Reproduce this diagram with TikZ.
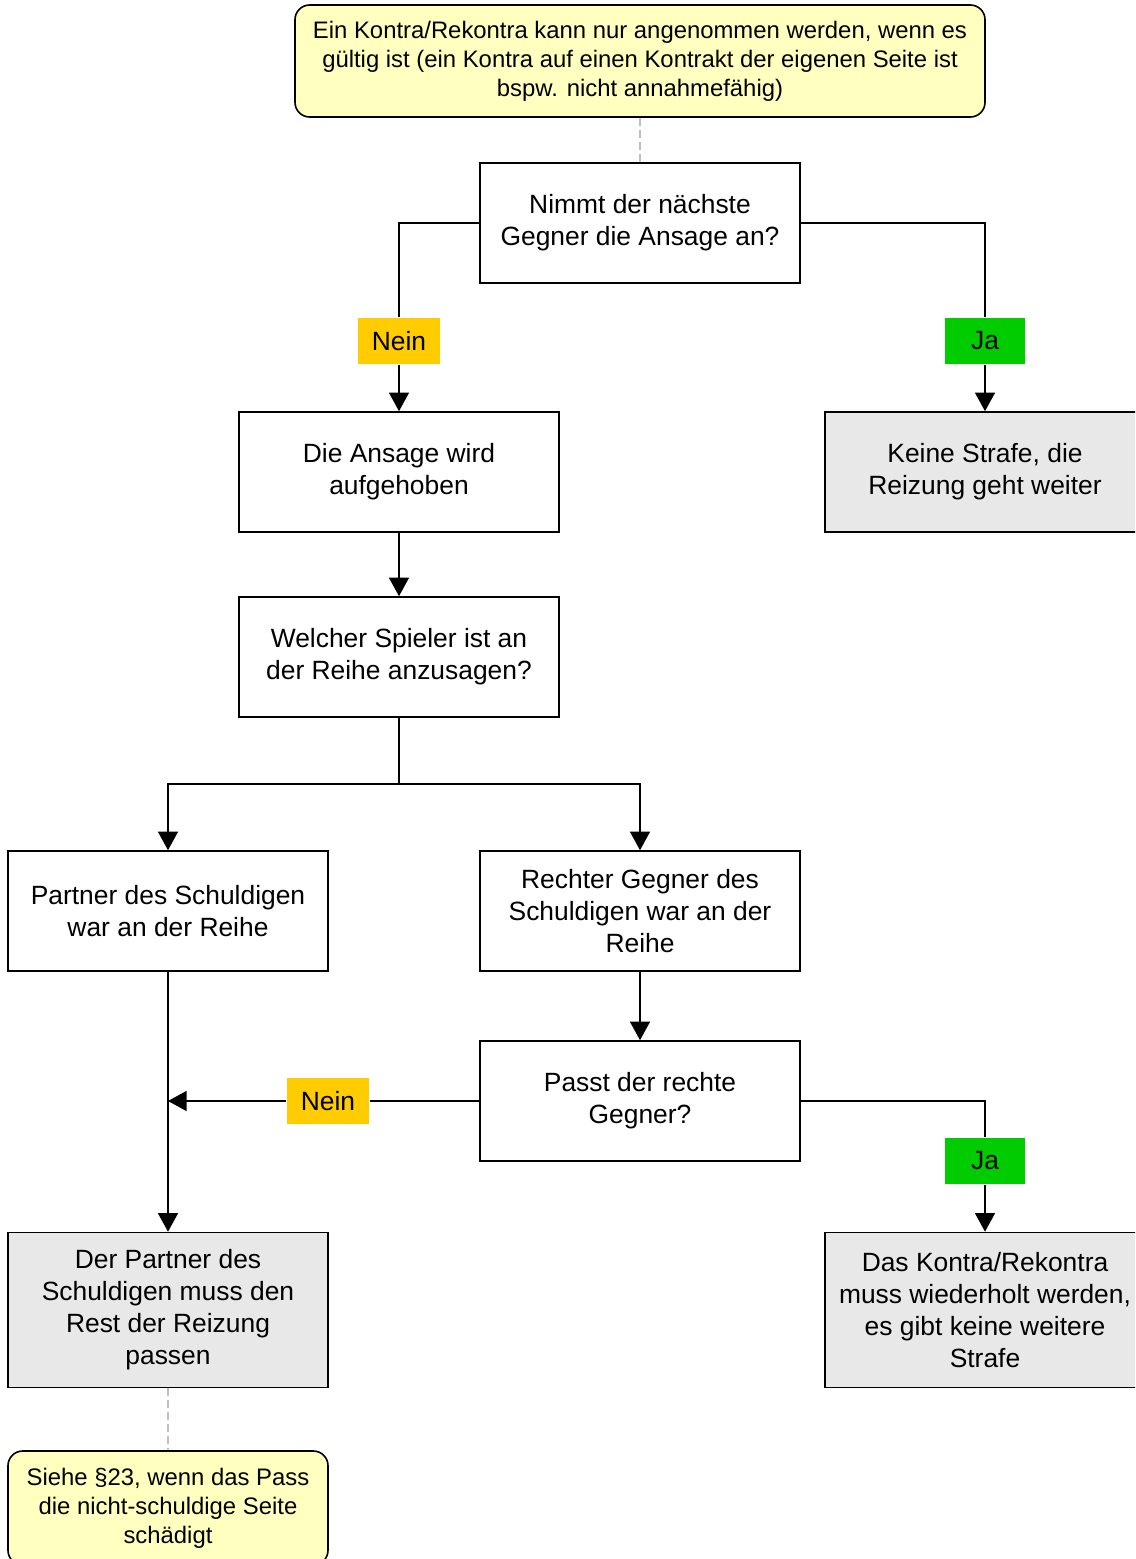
\documentclass[tikz,border=0pt]{standalone}
\usepackage{fontspec}
\setmainfont{Liberation Sans}
\usetikzlibrary{arrows.meta}

\tikzset{every picture/.style={line width=1.2pt}}

\begin{document}
\begin{tikzpicture}[x=0.75pt,y=0.75pt,yscale=-1,xscale=1,
  box/.style={draw, rectangle, minimum width=240pt, minimum height=90pt, inner sep=3pt, align=center, font=\fontsize{19.8}{24}\selectfont},
  endbox/.style={box, fill={rgb, 255:red, 232; green, 232; blue, 232 }},
  notebox/.style={draw, rectangle, rounded corners=11pt, fill={rgb, 255:red, 255; green, 255; blue, 192 }, align=center, inner sep=2pt, font=\fontsize{17.9}{21.75}\selectfont},
  nein/.style={fill={rgb, 255:red, 255; green, 204; blue, 0 }, minimum width=61.5pt, minimum height=35pt, inner sep=0pt, font=\fontsize{19.8}{24}\selectfont},
  ja/.style={fill={rgb, 255:red, 0; green, 204; blue, 0 }, minimum width=60pt, minimum height=35pt, inner sep=0pt, font=\fontsize{19.8}{24}\selectfont},
  arr/.style={-{Triangle[length=14pt,width=15pt]}},
  hint/.style={color={rgb, 255:red, 190; green, 190; blue, 190 }, dash pattern={on 6pt off 3pt}}]
\clip (0,0) rectangle (1135,1559);

% Notes
\node [notebox, minimum width=517.5pt, minimum height=84pt] (note1) at (640,61) {Ein Kontra/Rekontra kann nur angenommen werden, wenn es\\gültig ist (ein Kontra auf einen Kontrakt der eigenen Seite ist\\bspw. nicht annahmefähig)};
\node [notebox, minimum width=240pt, minimum height=85.5pt] (note2) at (168,1508) {Siehe §23, wenn das Pass\\die nicht-schuldige Seite\\schädigt};

% Boxes
\node [box] (ansnehmen) at (640,223) {Nimmt der nächste\\Gegner die Ansage an?};
\node [box] (aufgehoben) at (399,472) {Die Ansage wird\\aufgehoben};
\node [endbox] (keinestrafe) at (985,472) {Keine Strafe, die\\Reizung geht weiter};
\node [box] (welcher) at (399,657) {Welcher Spieler ist an\\der Reihe anzusagen?};
\node [box] (partner) at (168,911) {Partner des Schuldigen\\war an der Reihe};
\node [box] (rechter) at (640,911) {Rechter Gegner des\\Schuldigen war an der\\Reihe};
\node [box] (passt) at (640,1101) {Passt der rechte\\Gegner?};
\node [endbox, minimum height=116.25pt] (passen) at (168,1310) {Der Partner des\\Schuldigen muss den\\Rest der Reizung\\passen};
\node [endbox, minimum height=116.25pt] (wiederholt) at (985,1310) {Das Kontra/Rekontra\\muss wiederholt werden,\\es gibt keine weitere\\Strafe};

% Labels
\node [nein] (nein1) at (399,341) {Nein};
\node [ja] (ja1) at (985,341) {Ja};
\node [nein] (nein2) at (328,1101) {Nein};
\node [ja] (ja2) at (985,1161) {Ja};

\coordinate (split) at (399,784);
\coordinate (join) at (168,1101);

% Connectors
\draw [hint] (note1) -- (ansnehmen);
\draw (ansnehmen.west) -| (nein1.north);
\draw [arr] (nein1) -- (aufgehoben);
\draw (ansnehmen.east) -| (ja1.north);
\draw [arr] (ja1) -- (keinestrafe);
\draw [arr] (aufgehoben) -- (welcher);
\draw (welcher.south) -- (split);
\draw [arr] (split) -| (partner.north);
\draw [arr] (split) -| (rechter.north);
\draw [arr] (rechter) -- (passt);
\draw [arr] (partner) -- (passen);
\draw (passt.west) -- (nein2.east);
\draw [arr] (nein2.west) -- (join);
\draw (passt.east) -| (ja2.north);
\draw [arr] (ja2) -- (wiederholt);
\draw [hint] (passen) -- (note2);

\end{tikzpicture}
\end{document}
